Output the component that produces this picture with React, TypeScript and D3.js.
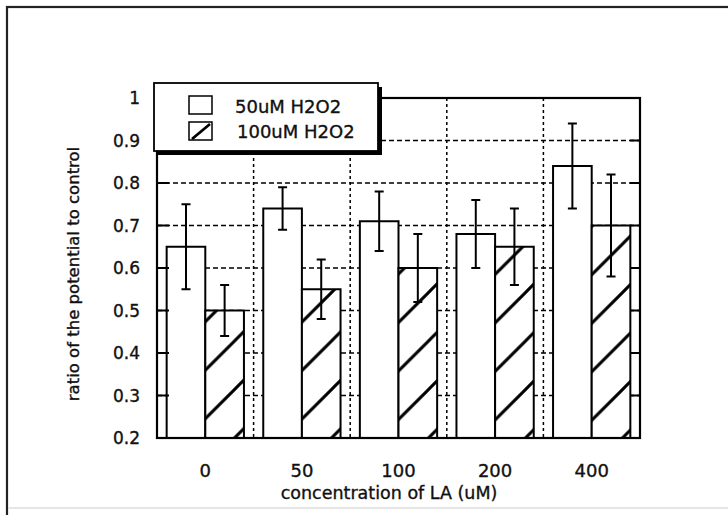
import React from "react";
import * as d3 from "d3";

// concentration of LA (uM)
const categories = ["0", "50", "100", "200", "400"];
const seriesNames = ["50uM H2O2", "100uM H2O2"];
// ratio of the potential to control
const h2o2_50 = [0.65, 0.74, 0.71, 0.68, 0.84];
const h2o2_50_err = [0.1, 0.05, 0.07, 0.08, 0.1];
const h2o2_100 = [0.5, 0.55, 0.6, 0.65, 0.7];
const h2o2_100_err = [0.06, 0.07, 0.08, 0.09, 0.12];
const yTicks = [0.2, 0.3, 0.4, 0.5, 0.6, 0.7, 0.8, 0.9, 1];

const W = 728;
const H = 515;
const plot = { left: 157, right: 640, top: 98, bottom: 438 };
const font = "'DejaVu Sans', sans-serif";
const hatchStep = 48.5;
const txt = { fill: "#111", stroke: "#111", strokeWidth: 0.35 };

export default function App() {
  const y = d3.scaleLinear().domain([0.2, 1]).range([plot.bottom, plot.top]);
  const x0 = d3.scaleBand().domain(categories).range([plot.left, plot.right]);
  const x1 = d3
    .scaleBand()
    .domain(seriesNames)
    .range([0, x0.bandwidth()])
    .paddingInner(0)
    .paddingOuter(0.25);

  const series = [
    { name: seriesNames[0], vals: h2o2_50, errs: h2o2_50_err, fill: "#fff" },
    { name: seriesNames[1], vals: h2o2_100, errs: h2o2_100_err, fill: "url(#hatch)" },
  ];

  const bounds = categories.slice(1).map((c) => x0(c)!);
  const gridY = yTicks.slice(1, -1);
  const fmt = d3.format("~g");
  const cap = 4.5;

  return (
    <svg
      width={W}
      height={H}
      style={{ position: "absolute", left: 0, top: 0, background: "#fff" }}
    >
      <defs>
        <pattern
          id="hatch"
          patternUnits="userSpaceOnUse"
          x={42}
          y={0}
          width={hatchStep}
          height={hatchStep}
        >
          <rect width={hatchStep} height={hatchStep} fill="#fff" />
          <path
            d={`M0,${hatchStep} L${hatchStep},0 M-4,4 L4,-4 M${hatchStep - 4},${hatchStep + 4} L${hatchStep + 4},${hatchStep - 4}`}
            stroke="#000"
            strokeWidth={3}
          />
        </pattern>
      </defs>

      {/* outer frame */}
      <rect x={7} y={7} width={W + 10} height={H + 10} fill="none" stroke="#222" strokeWidth={2.2} />
      <line x1={8} x2={W} y1={508} y2={508} stroke="#ddd" strokeWidth={1.5} />

      {/* grid */}
      <g stroke="#000" strokeWidth={1.5}>
        {gridY.map((t) => (
          <line key={"gy" + t} x1={plot.left} x2={plot.right} y1={y(t)} y2={y(t)} strokeDasharray="5,3" />
        ))}
        {bounds.map((bx, i) => (
          <line key={"gx" + i} x1={bx} x2={bx} y1={plot.top} y2={plot.bottom} strokeDasharray="3,3" />
        ))}
      </g>

      {/* bars */}
      {series.map((s) => (
        <g key={s.name}>
          {categories.map((c, i) => (
            <rect
              key={c}
              x={x0(c)! + x1(s.name)!}
              y={y(s.vals[i])}
              width={x1.bandwidth()}
              height={plot.bottom - y(s.vals[i])}
              fill={s.fill}
              stroke="#000"
              strokeWidth={2}
            />
          ))}
        </g>
      ))}

      {/* error bars */}
      {series.map((s) => (
        <g key={"e" + s.name} stroke="#000" strokeWidth={2}>
          {categories.map((c, i) => {
            const cx = x0(c)! + x1(s.name)! + x1.bandwidth() / 2;
            const hi = y(s.vals[i] + s.errs[i]);
            const lo = y(s.vals[i] - s.errs[i]);
            return (
              <g key={c}>
                <line x1={cx} x2={cx} y1={hi} y2={lo} />
                <line x1={cx - cap} x2={cx + cap} y1={hi} y2={hi} />
                <line x1={cx - cap} x2={cx + cap} y1={lo} y2={lo} />
              </g>
            );
          })}
        </g>
      ))}

      {/* plot frame + inner ticks */}
      <rect
        x={plot.left}
        y={plot.top}
        width={plot.right - plot.left}
        height={plot.bottom - plot.top}
        fill="none"
        stroke="#000"
        strokeWidth={2.2}
      />
      <g stroke="#000" strokeWidth={2}>
        {gridY.map((t) => (
          <g key={"t" + t}>
            <line x1={plot.left} x2={plot.left + 12} y1={y(t)} y2={y(t)} />
            <line x1={plot.right - 10} x2={plot.right} y1={y(t)} y2={y(t)} />
          </g>
        ))}
      </g>

      {/* y tick labels */}
      <g fontFamily={font} fontSize={17} textAnchor="end" {...txt}>
        {yTicks.map((t) => (
          <text key={t} x={140} y={y(t)} dy="0.36em">
            {fmt(t)}
          </text>
        ))}
      </g>

      {/* x tick labels */}
      <g fontFamily={font} fontSize={18} textAnchor="middle" {...txt}>
        {categories.map((c) => (
          <text key={c} x={x0(c)! + x0.bandwidth() / 2} y={477}>
            {c}
          </text>
        ))}
      </g>

      {/* axis titles */}
      <text x={389} y={499} fontFamily={font} fontSize={17.5} textAnchor="middle" {...txt}>
        concentration of LA (uM)
      </text>
      <text
        transform="translate(79,274) rotate(-90)"
        fontFamily={font}
        fontSize={16.5}
        textAnchor="middle"
        {...txt}
      >
        ratio of the potential to control
      </text>

      {/* legend */}
      <g>
        <rect x={158} y={87} width={224} height={68} fill="#000" />
        <rect x={154} y={83} width={224} height={68} fill="#fff" stroke="#000" strokeWidth={1.8} />
        <rect x={189} y={96} width={23} height={18} fill="#fff" stroke="#000" strokeWidth={1.5} />
        <rect x={189} y={122} width={23} height={18} fill="#fff" stroke="#000" strokeWidth={1.5} />
        <line x1={192} y1={139} x2={210} y2={124} stroke="#000" strokeWidth={2.8} />
        <g fontFamily={font} fontSize={18} {...txt}>
          <text x={235} y={113}>{seriesNames[0]}</text>
          <text x={237} y={138}>{seriesNames[1]}</text>
        </g>
      </g>
    </svg>
  );
}
